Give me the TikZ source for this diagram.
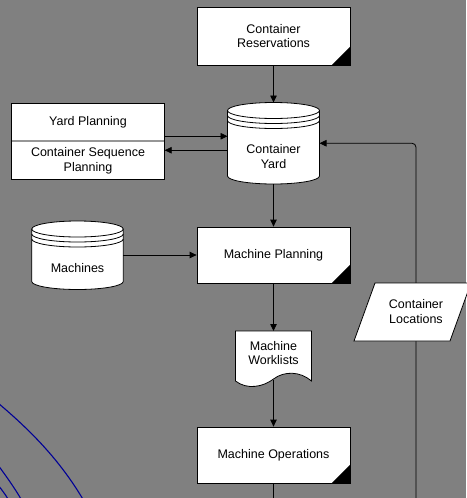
\documentclass[tikz,border=0pt]{standalone}
\usepackage{fontspec}
\setmainfont{Liberation Sans}
\usetikzlibrary{arrows.meta}
\definecolor{bg}{RGB}{128,128,128}
\definecolor{curveblue}{RGB}{0,0,150}
\definecolor{divgray}{RGB}{150,150,150}
\newcommand\drawcyl[5]{% #1 left, #2 right, #3 top ellipse centre y, #4 bottom ellipse centre y, #5 ry
  \pgfmathsetmacro\cylrx{(#2-#1)/2}
  \draw[cylline] (#1,#3) arc[start angle=180,end angle=0,x radius=\cylrx pt,y radius=#5pt]
     -- (#2,#4) arc[start angle=0,end angle=-180,x radius=\cylrx pt,y radius=#5pt] -- cycle;
  \draw[thinline] (#1,#3) arc[start angle=180,end angle=360,x radius=\cylrx pt,y radius=#5pt];
  \draw[thinline] (#1,#3-5) arc[start angle=180,end angle=360,x radius=\cylrx pt,y radius=#5pt];
  \draw[thinline] (#1,#3-10) arc[start angle=180,end angle=360,x radius=\cylrx pt,y radius=#5pt];
}
\begin{document}
\begin{tikzpicture}[x=1pt,y=1pt,
  txt/.style={font=\fontsize{12.5}{14.7}\selectfont, align=center, text=black, inner sep=0pt},
  procbox/.style={draw=black, line width=0.8pt, fill=white, minimum width=153pt, inner sep=0pt,
     font=\fontsize{12.5}{14.7}\selectfont, align=center},
  ghost/.style={inner sep=0pt, outer sep=0pt},
  cylline/.style={draw=black, line width=0.8pt, fill=white},
  thinline/.style={draw=black, line width=0.8pt},
  arr/.style={draw=black, line width=0.8pt, -{Triangle[length=7pt,width=6.5pt]}},
  plain/.style={draw=black, line width=0.8pt},
  corner/.style={fill=black}
]
\useasboundingbox (0,0) rectangle (466,-498);
\fill[bg] (0,0) rectangle (466,-498);

% blue curves
\begin{scope}
\clip (0,0) rectangle (466,-498);
\draw[curveblue, line width=1.1pt] (-2,-403) .. controls (30,-430) and (60,-460) .. (84,-501);
\draw[curveblue, line width=1.1pt] (-2,-465) .. controls (6,-476) and (14,-487) .. (21,-499);
\draw[curveblue, line width=1.1pt] (-2,-485) .. controls (2,-490) and (5,-494) .. (8,-499);
\end{scope}

% Container Reservations
\node[procbox, minimum height=58pt] (res) at (273.5,-36) {Container\\Reservations};
\fill[corner] (res.south east) -- ++(-19,0) -- ++(19,19) -- cycle;

% Container Yard cylinder
\node[ghost, minimum width=92pt, minimum height=81.5pt] (yard) at (273.5,-143.25) {};
\drawcyl{227.5}{319.5}{-110.5}{-176}{8}
\node[txt] (yardtxt) at (273.5,-156.5) {Container\\Yard};

% Yard Planning / Container Sequence Planning
\node[procbox, minimum width=152.5pt, minimum height=76pt] (yp) at (88,-141) {};
\draw[divgray, line width=1.6pt] ([xshift=1pt]yp.west) -- ([xshift=-1pt]yp.east);
\node[txt] (yptxt) at (88,-122.5) {Yard Planning};
\node[txt] (cstxt) at (88,-161) {Container Sequence\\Planning};

% Machine Planning
\node[procbox, minimum height=56pt] (mp) at (273.5,-255) {Machine Planning};
\fill[corner] (mp.south east) -- ++(-19,0) -- ++(19,19) -- cycle;

% Machines cylinder
\node[ghost, minimum width=91.5pt, minimum height=68pt] (mach) at (77.5,-255) {};
\drawcyl{31.75}{123.25}{-229}{-281.5}{8}
\node[txt] (machtxt) at (77.5,-268) {Machines};

% Machine Worklists document
\node[ghost, minimum width=76pt, minimum height=49pt] (wl) at (273.5,-355.5) {};
\draw[cylline] (235.5,-331) -- (311.5,-331) -- (311.5,-381)
   .. controls (300,-371) and (284,-371) .. (273.5,-379)
   .. controls (263,-387) and (247,-390) .. (235.5,-381) -- cycle;
\node[txt] (wltxt) at (273.5,-353) {Machine\\Worklists};

% Machine Operations
\node[procbox, minimum height=56pt] (mo) at (273.5,-455) {Machine Operations};
\fill[corner] (mo.south east) -- ++(-19,0) -- ++(19,19) -- cycle;

% connectors
\draw[arr] (res.south) -- (yard.north);
\coordinate (a1) at ([yshift=7pt]yard.west);
\coordinate (a2) at ([yshift=-7pt]yard.west);
\draw[arr] (a1 -| yp.east) -- (a1);
\draw[arr] (a2) -- (a2 -| yp.east);
\draw[arr] (yard.south) -- (mp.north);
\draw[arr] (mach.east) -- (mp.west);
\draw[arr] (mp.south) -- (wl.north);
\draw[arr] (wl.south) -- (mo.north);
\coordinate (bot) at (273.5,-498);
\draw[plain] (mo.south) -- (bot);

\coordinate (lb) at (416,-498);
\draw[arr, rounded corners=4pt] (lb) -- (lb |- yard.east) -- (yard.east);

% Container Locations (data parallelogram)
\draw[cylline] (354,-341) -- (375,-283) -- (471,-283) -- (450,-341) -- cycle;
\node[txt] (loc) at (416,-311.5) {Container\\Locations};
\end{tikzpicture}
\end{document}
